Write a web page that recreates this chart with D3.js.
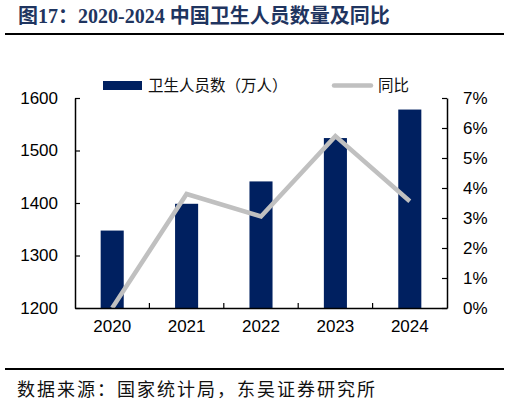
<!DOCTYPE html>
<html>
<head>
<meta charset="utf-8">
<script src="https://cdn.jsdelivr.net/npm/d3@7"></script>
<style>
  body { margin: 0; background: #fff; }
  svg { display: block; }
</style>
</head>
<body>
<div id="chart"></div>
<script>
// data
var years = ["2020", "2021", "2022", "2023", "2024"];
var staff = [1347.5, 1398.5, 1441.1, 1523.7, 1578.0];   // 万人
var yoy = [0, 3.8, 3.05, 5.73, 3.56];                    // %
var leftTicks = [1200, 1300, 1400, 1500, 1600];
var rightTicks = [0, 1, 2, 3, 4, 5, 6, 7];

var W = 509, H = 402;
var margin = {top: 98, right: 62, bottom: 94, left: 75},
    width = W - margin.left - margin.right,
    height = H - margin.top - margin.bottom;

var svg = d3.select("#chart")
  .append("svg")
    .attr("width", W)
    .attr("height", H);

// title + rules
svg.append("text")
    .attr("x", 18)
    .attr("y", 23)
    .style("font-family", "'Liberation Serif', 'Noto Sans CJK SC', serif")
    .style("font-weight", "bold")
    .style("font-size", "20px")
    .style("fill", "#1f3560")
    .text("图17：2020-2024 中国卫生人员数量及同比");
svg.append("line")
    .attr("x1", 5).attr("x2", 504)
    .attr("y1", 34).attr("y2", 34)
    .style("stroke", "#000").style("stroke-width", 2);
svg.append("line")
    .attr("x1", 5).attr("x2", 504)
    .attr("y1", 369).attr("y2", 369)
    .style("stroke", "#000").style("stroke-width", 2);
svg.append("text")
    .attr("x", 17)
    .attr("y", 396)
    .style("font-family", "'Noto Sans CJK SC', sans-serif")
    .style("font-size", "18px")
    .style("letter-spacing", "2px")
    .style("fill", "#111")
    .text("数据来源：国家统计局，东吴证券研究所");

var g = svg.append("g")
    .attr("transform", `translate(${margin.left},${margin.top})`);

var x = d3.scaleBand()
  .domain(years)
  .range([0, width])
  .paddingInner(0.69)
  .paddingOuter(0.345);

var band = d3.scaleBand().domain(years).range([0, width]);

var y = d3.scaleLinear().domain([1200, 1600]).range([height, 0]);
var y2 = d3.scaleLinear().domain([0, 7]).range([height, 0]);

// bars
g.append("g")
  .selectAll("rect")
  .data(years)
  .join("rect")
    .attr("x", d => x(d))
    .attr("y", (d, i) => y(staff[i]))
    .attr("width", x.bandwidth())
    .attr("height", (d, i) => height - y(staff[i]))
    .style("fill", "#002060");

// yoy line
var line = d3.line()
  .x((d, i) => band(years[i]) + band.bandwidth() / 2)
  .y(d => y2(d));
g.append("path")
  .datum(yoy)
  .attr("d", line)
  .style("fill", "none")
  .style("stroke", "#c0c0c0")
  .style("stroke-width", 4.5)
  .style("stroke-linejoin", "miter");

// axes
var font = "'Liberation Sans', Arial, sans-serif";

var ax = g.append("g")
  .attr("transform", `translate(0,${height})`)
  .call(d3.axisBottom(band).tickSize(0).tickPadding(12));
ax.select(".domain").style("stroke", "#000").style("stroke-width", 1.5);
ax.selectAll("text").style("font-family", font).style("font-size", "17px").style("fill", "#000");
// tick marks between categories
g.append("g")
  .selectAll("line")
  .data(years.slice(1))
  .join("line")
    .attr("x1", d => band(d)).attr("x2", d => band(d))
    .attr("y1", height).attr("y2", height - 5)
    .style("stroke", "#000").style("stroke-width", 1.2);

var al = g.append("g")
  .call(d3.axisLeft(y).tickValues(leftTicks).tickFormat(d3.format("d"))
    .tickSizeInner(-5).tickSizeOuter(0).tickPadding(17));
al.select(".domain").style("stroke", "#000").style("stroke-width", 1.5);
al.selectAll(".tick line").style("stroke", "#000").style("stroke-width", 1.2);
al.selectAll("text").style("font-family", font).style("font-size", "17px").style("fill", "#000");

var ar = g.append("g")
  .attr("transform", `translate(${width},0)`)
  .call(d3.axisRight(y2).tickValues(rightTicks).tickFormat(d => d + "%")
    .tickSizeInner(-5).tickSizeOuter(0).tickPadding(16));
ar.select(".domain").style("stroke", "#000").style("stroke-width", 1.5);
ar.selectAll(".tick line").style("stroke", "#000").style("stroke-width", 1.2);
ar.selectAll("text").style("font-family", font).style("font-size", "17px").style("fill", "#000");

// legend
var lg = svg.append("g");
lg.append("rect")
  .attr("x", 103).attr("y", 81)
  .attr("width", 39).attr("height", 9)
  .style("fill", "#002060");
lg.append("text")
  .attr("x", 148).attr("y", 91)
  .style("font-family", "'Noto Sans CJK SC', sans-serif")
  .style("font-size", "15.5px")
  .style("fill", "#111")
  .text("卫生人员数（万人）");
lg.append("line")
  .attr("x1", 334).attr("x2", 371)
  .attr("y1", 85.5).attr("y2", 85.5)
  .style("stroke", "#c0c0c0")
  .style("stroke-width", 4.5)
  .style("stroke-linecap", "round");
lg.append("text")
  .attr("x", 378).attr("y", 91)
  .style("font-family", "'Noto Sans CJK SC', sans-serif")
  .style("font-size", "15.5px")
  .style("fill", "#111")
  .text("同比");
</script>
</body>
</html>
